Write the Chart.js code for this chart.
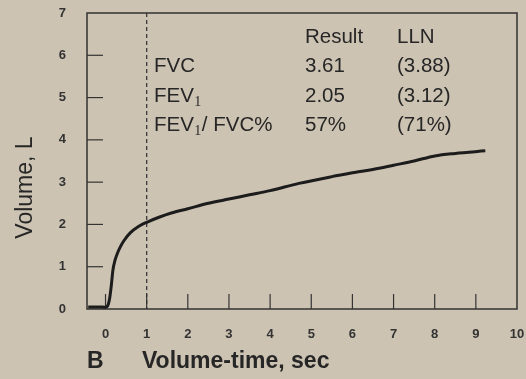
<!DOCTYPE html>
<html>
<head>
<meta charset="utf-8">
<script src="https://cdn.jsdelivr.net/npm/chart.js@4"></script>
<style>
  html, body { margin: 0; padding: 0; background: #cdc3b2; }
  canvas { display: block; }
</style>
</head>
<body>
<canvas id="grafico" width="526" height="379"></canvas>
<script>
// Curva volumen-tiempo
const tiempos = [-0.42, -0.3, -0.15, 0.0, 0.05, 0.1, 0.14, 0.18, 0.23, 0.29, 0.36, 0.45, 0.6, 0.8, 1.0, 1.3, 1.6, 2.0, 2.5, 3.0, 3.5, 4.0, 4.7, 5.5, 6.0, 6.65, 7.0, 7.5, 8.0, 8.5, 9.23];
const volumenes = [0.05, 0.05, 0.05, 0.04, 0.07, 0.25, 0.55, 0.92, 1.15, 1.32, 1.47, 1.62, 1.8, 1.95, 2.05, 2.17, 2.27, 2.37, 2.5, 2.6, 2.7, 2.8, 2.97, 3.13, 3.22, 3.33, 3.4, 3.5, 3.62, 3.68, 3.74];

// Ticks de los ejes
const ticksX = [0, 1, 2, 3, 4, 5, 6, 7, 8, 9, 10];
const ticksY = [0, 1, 2, 3, 4, 5, 6, 7];
const lineaFEV1 = 1; // línea punteada en 1 seg

// Tabla de resultados
const encabezados = ['Result', 'LLN'];
const filas = ['FVC', 'FEV₁', 'FEV₁/ FVC%'];
const resultados = ['3.61', '2.05', '57%'];
const lln = ['(3.88)', '(3.12)', '(71%)'];

const colorTexto = '#262626';
const colorEje = '#333333';

// Dibuja texto con el subíndice ₁ como "1" pequeño
function textoConSub(ctx, txt, x, y) {
  const partes = txt.split('₁');
  let cx = x;
  partes.forEach((p, i) => {
    ctx.font = '20.5px Arial, "Liberation Sans"';
    ctx.fillText(p, cx, y);
    cx += ctx.measureText(p).width;
    if (i < partes.length - 1) {
      ctx.font = '14px "Liberation Serif", "Times New Roman", serif';
      ctx.fillText('1', cx + 0.5, y + 4);
      cx += ctx.measureText('1').width + 1;
    }
  });
}

const decoracion = {
  id: 'decoracion',
  beforeDatasetsDraw(chart) {
    const { ctx, chartArea: a, scales: { x, y } } = chart;
    ctx.save();
    // Línea punteada FEV1
    ctx.strokeStyle = '#3a3a3a';
    ctx.lineWidth = 1.3;
    ctx.setLineDash([4, 3]);
    const px = x.getPixelForValue(lineaFEV1);
    ctx.beginPath();
    ctx.moveTo(px, a.top);
    ctx.lineTo(px, a.bottom);
    ctx.stroke();
    ctx.setLineDash([]);

    // Marco
    ctx.strokeStyle = colorEje;
    ctx.lineWidth = 1.5;
    ctx.strokeRect(a.left, a.top, a.right - a.left, a.bottom - a.top);

    // Ticks hacia adentro
    ctx.lineWidth = 1.2;
    ticksY.forEach(v => {
      if (v === 0 || v === 7) return;
      const py = y.getPixelForValue(v);
      ctx.beginPath();
      ctx.moveTo(a.left, py);
      ctx.lineTo(a.left + 16, py);
      ctx.stroke();
    });
    ticksX.forEach(v => {
      if (v === 10) return;
      const tx = x.getPixelForValue(v);
      ctx.beginPath();
      ctx.moveTo(tx, a.bottom);
      ctx.lineTo(tx, a.bottom - 15);
      ctx.stroke();
    });
    ctx.restore();
  },
  afterDraw(chart) {
    const { ctx } = chart;
    ctx.save();
    ctx.fillStyle = colorTexto;
    ctx.textBaseline = 'alphabetic';
    ctx.textAlign = 'left';

    // Tabla
    ctx.font = '20.5px Arial, "Liberation Sans"';
    ctx.fillText(encabezados[0], 305, 43);
    ctx.fillText(encabezados[1], 397, 43);
    const bases = [72, 101.5, 131];
    filas.forEach((f, i) => {
      textoConSub(ctx, f, 154, bases[i]);
      ctx.font = '20.5px Arial, "Liberation Sans"';
      ctx.fillText(resultados[i], 305, bases[i]);
      ctx.fillText(lln[i], 397, bases[i]);
    });

    // Título eje Y
    ctx.translate(32, 187.5);
    ctx.rotate(-Math.PI / 2);
    ctx.textAlign = 'center';
    ctx.font = '23px Arial, "Liberation Sans"';
    ctx.fillText('Volume, L', 0, 0);
    ctx.restore();
  }
};

new Chart(document.getElementById('grafico'), {
  type: 'scatter',
  data: {
    datasets: [{
      data: tiempos.map((t, i) => ({ x: t, y: volumenes[i] })),
      showLine: true,
      borderColor: '#1c1c1c',
      borderWidth: 3,
      pointRadius: 0,
      cubicInterpolationMode: 'monotone',
      fill: false
    }]
  },
  options: {
    responsive: false,
    animation: false,
    layout: { padding: { top: 13, right: 9, left: 0, bottom: 0 } },
    plugins: {
      legend: { display: false },
      tooltip: { enabled: false }
    },
    scales: {
      x: {
        type: 'linear',
        min: -0.45,
        max: 10,
        afterBuildTicks: s => { s.ticks = ticksX.map(v => ({ value: v })); },
        afterFit: s => { s.height = 70; s.paddingLeft = 0; s.paddingRight = 0; },
        grid: { display: false, drawTicks: false },
        border: { display: false },
        ticks: {
          padding: 18,
          color: '#333',
          font: { family: 'Arial', size: 13, weight: 'bold' },
          maxRotation: 0
        },
        title: {
          display: true,
          align: 'start',
          text: 'B      Volume-time, sec',
          color: colorTexto,
          font: { family: 'Arial', size: 23, weight: 'bold' },
          padding: { top: 0, bottom: 4 }
        }
      },
      y: {
        min: 0,
        max: 7,
        afterBuildTicks: s => { s.ticks = ticksY.map(v => ({ value: v })); },
        afterFit: s => { s.width = 87; s.paddingTop = 0; s.paddingBottom = 0; },
        grid: { display: false, drawTicks: false },
        border: { display: false },
        ticks: {
          padding: 21,
          color: '#333',
          font: { family: 'Arial', size: 13, weight: 'bold' }
        }
      }
    }
  },
  plugins: [decoracion]
});
</script>
</body>
</html>
